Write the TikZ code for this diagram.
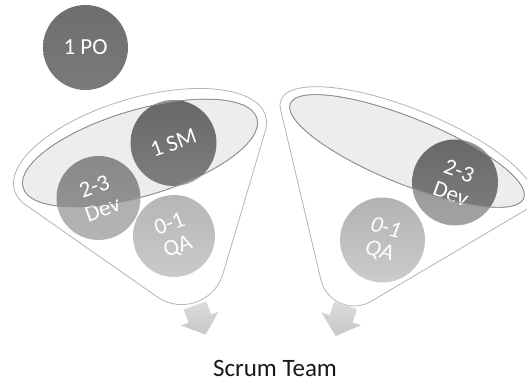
\documentclass[tikz,border=0pt]{standalone}
\usepackage{fontspec}
\setmainfont{Carlito}
\definecolor{rimfill}{HTML}{EDEDED}
\definecolor{rimline}{HTML}{8E8E8E}
\definecolor{outline}{HTML}{B4B4B4}
\definecolor{arrowgray}{HTML}{D2D2D2}
\tikzset{
  ball/.style={circle, inner sep=0pt, text=white, align=center, shading=axis,
    font=\fontsize{23}{24}\selectfont},
  rim/.style={fill=rimfill, draw=rimline, line width=0.7pt},
  rimedge/.style={draw=rimline, line width=0.7pt},
  shell/.style={draw=outline, line width=0.8pt},
  veil/.style={fill=white, fill opacity=0.28, even odd rule},
  blockarrow/.style={top color=arrowgray!80!white, bottom color=arrowgray!95!black, draw=none},
}
% outline of each funnel: outer lip, two sides, rounded outlet
\newcommand{\leftshell}{(126.4,-14.48) arc[start angle=-15.26, end angle=198.48, x radius=131, y radius=55]
     -- (-24.5,-142.7) arc[start angle=-141.6, end angle=-33.0, radius=43] -- cycle}
\newcommand{\rightshell}{(132.4,-9.61) arc[start angle=-13.23, end angle=192.39, x radius=136, y radius=42]
     -- (-31.3,-151.8) arc[start angle=-144.5, end angle=-37.3, radius=34] -- cycle}
\begin{document}
\begin{tikzpicture}[x=1pt,y=1pt]
\useasboundingbox (0,0) rectangle (527,382);

% product owner, outside the funnels
\node[ball, minimum size=85pt, top color=black!57, bottom color=black!52] (po) at (85.5,334.5) {1 PO};

% ---------- left funnel: rim ----------
\begin{scope}[shift={(140,229)}, rotate=16.5]
  \path[rim] (0,0) ellipse [x radius=122, y radius=43];
\end{scope}

% balls in the left funnel
\node[ball, minimum size=86pt, rotate=20, top color=black!60, bottom color=black!50] (sm) at (173.5,239) {1 SM};
\node[ball, minimum size=84pt, rotate=20, top color=black!47, bottom color=black!40] (devl) at (98.5,184) {2-3\\Dev};
\node[ball, minimum size=82pt, rotate=20, top color=black!40, bottom color=black!28] (qal) at (174,146) {0-1\\QA};

% front wall of the left funnel
\begin{scope}[shift={(140,229)}, rotate=16.5]
  \path[veil] \leftshell (0,0) ellipse [x radius=122, y radius=43];
  \draw[rimedge] (0,0) ellipse [x radius=122, y radius=43];
  \draw[shell] \leftshell;
\end{scope}

% ---------- right funnel: rim ----------
\begin{scope}[shift={(407,231)}, rotate=-22.1]
  \path[rim] (0,0) ellipse [x radius=126, y radius=33];
\end{scope}

% balls in the right funnel
\node[ball, minimum size=86pt, rotate=-20, top color=black!60, bottom color=black!50] (devr) at (455,199.5) {2-3\\Dev};
\node[ball, minimum size=85pt, rotate=-15, top color=black!42, bottom color=black!28, font=\fontsize{23}{24}\selectfont\itshape] (qar) at (382.5,142) {0-1\\QA};

% front wall of the right funnel
\begin{scope}[shift={(407,231)}, rotate=-22.1]
  \path[veil] \rightshell (0,0) ellipse [x radius=126, y radius=33];
  \draw[rimedge] (0,0) ellipse [x radius=126, y radius=33];
  \draw[shell] \rightshell;
\end{scope}

% outlet arrows under the funnels
\begin{scope}[shift={(195,76.5)}, rotate=20]
  \path[blockarrow] (-12,0) -- (12,0) -- (12,-14) -- (20,-14) -- (0,-31) -- (-20,-14) -- (-12,-14) -- cycle;
\end{scope}
\begin{scope}[shift={(345.5,76.5)}, rotate=-18]
  \path[blockarrow] (-12,0) -- (12,0) -- (12,-14) -- (21,-14) -- (0,-32) -- (-21,-14) -- (-12,-14) -- cycle;
\end{scope}

\node[font=\fontsize{25}{27}\selectfont, text=black!90] (team) at (275,14) {Scrum Team};
\end{tikzpicture}
\end{document}
